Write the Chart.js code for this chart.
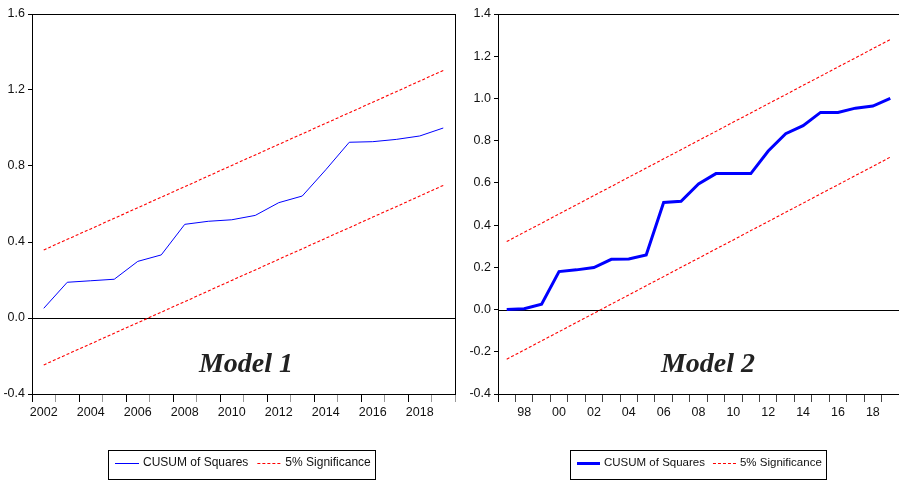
<!DOCTYPE html>
<html>
<head>
<meta charset="utf-8">
<script src="https://cdn.jsdelivr.net/npm/chart.js@4/dist/chart.umd.min.js"></script>
<style>
  html, body { margin: 0; padding: 0; background: #fff; width: 899px; height: 483px; overflow: hidden; }
  canvas { position: absolute; top: 0; }
  #model1 { left: 0; }
  #model2 { left: 458px; }
</style>
</head>
<body>
<canvas id="model1" width="460" height="483"></canvas>
<canvas id="model2" width="441" height="483"></canvas>
<script>
// ---- Model 1: CUSUM of squares, 2002-2019 ----
const years1 = [2002, 2003, 2004, 2005, 2006, 2007, 2008, 2009, 2010, 2011,
                2012, 2013, 2014, 2015, 2016, 2017, 2018, 2019];
const cusum1 = [0.051, 0.188, 0.196, 0.204, 0.298, 0.332, 0.493, 0.509, 0.517, 0.540,
                0.607, 0.642, 0.780, 0.925, 0.928, 0.940, 0.958, 1.000];
const upper1 = [0.358, 0.414, 0.469, 0.525, 0.580, 0.636, 0.691, 0.747, 0.803, 0.858,
                0.914, 0.969, 1.025, 1.080, 1.136, 1.191, 1.247, 1.303];
const lower1 = [-0.247, -0.191, -0.136, -0.080, -0.025, 0.031, 0.086, 0.142, 0.198, 0.253,
                0.309, 0.364, 0.420, 0.475, 0.531, 0.586, 0.642, 0.698];
const yRange1 = { min: -0.4, max: 1.6, step: 0.4 };

// ---- Model 2: CUSUM of squares, 1997-2019 ----
const years2 = [1997, 1998, 1999, 2000, 2001, 2002, 2003, 2004, 2005, 2006, 2007, 2008,
                2009, 2010, 2011, 2012, 2013, 2014, 2015, 2016, 2017, 2018, 2019];
const cusum2 = [0.000, 0.004, 0.025, 0.180, 0.188, 0.199, 0.238, 0.240, 0.259, 0.507, 0.513, 0.595,
                0.644, 0.644, 0.644, 0.751, 0.833, 0.871, 0.934, 0.934, 0.954, 0.964, 1.000];
const upper2 = [0.322, 0.366, 0.409, 0.453, 0.496, 0.540, 0.583, 0.627, 0.670, 0.714, 0.757, 0.801,
                0.844, 0.888, 0.931, 0.975, 1.018, 1.062, 1.105, 1.149, 1.192, 1.236, 1.279];
const lower2 = [-0.235, -0.192, -0.148, -0.105, -0.061, -0.018, 0.026, 0.069, 0.113, 0.156, 0.200, 0.243,
                0.287, 0.330, 0.374, 0.417, 0.461, 0.504, 0.548, 0.591, 0.635, 0.678, 0.722];
const yRange2 = { min: -0.4, max: 1.4, step: 0.2 };

const seriesLabel = 'CUSUM of Squares';
const bandLabel = '5% Significance';
const BLUE = '#0000FF';
const RED = '#FF0000';
const SANS = '"Liberation Sans", Arial, sans-serif';

// Frame, zero line, panel title and boxed legend
const panelDecor = {
  id: 'panelDecor',
  beforeDatasetsDraw(chart) {
    const { ctx, chartArea: a, scales: { y } } = chart;
    ctx.save();
    ctx.strokeStyle = '#000';
    ctx.lineWidth = 1;
    const y0 = Math.round(y.getPixelForValue(0)) + 0.5;
    ctx.beginPath();
    ctx.moveTo(a.left, y0);
    ctx.lineTo(a.right, y0);
    ctx.stroke();
    ctx.strokeRect(Math.round(a.left) + 0.5, Math.round(a.top) + 0.5,
                   Math.round(a.right - a.left), Math.round(a.bottom - a.top));
    ctx.restore();
  },
  afterDraw(chart, args, o) {
    const ctx = chart.ctx;
    ctx.save();
    // panel title
    ctx.font = 'italic bold 28px "Liberation Serif", "Times New Roman", serif';
    ctx.fillStyle = '#222';
    ctx.textAlign = 'center';
    ctx.textBaseline = 'alphabetic';
    ctx.fillText(o.title, o.titleX, o.titleY);

    // legend: one entry per distinct dataset label
    const seen = new Set();
    const items = chart.data.datasets.filter(d => !seen.has(d.label) && seen.add(d.label));
    ctx.font = o.legendFont + 'px ' + SANS;
    ctx.textAlign = 'left';
    ctx.textBaseline = 'middle';
    let x = o.legendX;
    const ly = o.legendY;
    items.forEach((d, i) => {
      ctx.strokeStyle = d.borderColor;
      ctx.lineWidth = d.legendWidth || 1;
      ctx.setLineDash(d.borderDash || []);
      ctx.beginPath();
      ctx.moveTo(x, ly + 0.5);
      ctx.lineTo(x + o.swatch, ly + 0.5);
      ctx.stroke();
      ctx.setLineDash([]);
      x += o.swatch + 4;
      ctx.fillStyle = '#111';
      ctx.fillText(d.label, x, ly);
      x += ctx.measureText(d.label).width;
      if (i < items.length - 1) x += o.gap;
    });
    ctx.strokeStyle = '#000';
    ctx.lineWidth = 1;
    const bx = Math.round(o.legendX - 7) + 0.5;
    ctx.strokeRect(bx, o.boxTop + 0.5, Math.round(x + 5 - bx), o.boxH);
    ctx.restore();
  }
};

function makePanel(id, years, cusum, upper, lower, yr, opt) {
  return new Chart(document.getElementById(id), {
    type: 'line',
    data: {
      labels: years,
      datasets: [
        { label: seriesLabel, data: cusum, borderColor: BLUE, borderWidth: opt.cusumWidth,
          legendWidth: opt.cusumWidth, pointRadius: 0, tension: 0, fill: false },
        { label: bandLabel, data: upper, borderColor: RED, borderWidth: 1.1,
          borderDash: [3, 2], pointRadius: 0, tension: 0, fill: false },
        { label: bandLabel, data: lower, borderColor: RED, borderWidth: 1.1,
          borderDash: [3, 2], pointRadius: 0, tension: 0, fill: false }
      ]
    },
    options: {
      responsive: false,
      animation: false,
      devicePixelRatio: 1,
      layout: { padding: { top: 14, right: opt.padRight, bottom: 59, left: 0 } },
      plugins: {
        legend: { display: false },
        tooltip: { enabled: false },
        panelDecor: opt.decor
      },
      scales: {
        x: {
          type: 'category',
          offset: true,
          border: { display: false },
          grid: {
            offset: true,
            drawOnChartArea: false,
            tickLength: 8,
            tickColor: ctx => opt.tickColor(ctx.index)
          },
          ticks: {
            autoSkip: false,
            maxRotation: 0,
            padding: 3,
            color: '#111',
            font: { family: SANS, size: 12.5 },
            callback: (v, i) => (years[i] % 2 === 0 ? opt.yearText(years[i]) : '')
          },
          afterFit: s => { s.height = 30; }
        },
        y: {
          min: yr.min,
          max: yr.max,
          border: { display: false },
          grid: { drawOnChartArea: false, tickLength: 4, tickColor: '#000' },
          ticks: {
            stepSize: yr.step,
            padding: 3,
            color: '#111',
            font: { family: SANS, size: 12.5 },
            callback: v => (Math.abs(v) < 1e-9 ? 0 : v).toFixed(1)
          },
          afterFit: s => { s.width = opt.yWidth; }
        }
      }
    },
    plugins: [panelDecor]
  });
}

makePanel('model1', years1, cusum1, upper1, lower1, yRange1, {
  cusumWidth: 1,
  padRight: 5,
  yWidth: 32,
  tickColor: i => (i % 2 === 0 ? '#000' : '#999'),
  yearText: y => String(y),
  decor: { title: 'Model 1', titleX: 246, titleY: 372,
           legendX: 115, legendY: 463, swatch: 24, gap: 9, legendFont: 12,
           boxTop: 450, boxH: 29 }
});

makePanel('model2', years2, cusum2, upper2, lower2, yRange2, {
  cusumWidth: 3,
  padRight: 0,
  yWidth: 40,
  tickColor: i => (i === 0 ? '#000' : '#444'),
  yearText: y => String(y).slice(2),
  decor: { title: 'Model 2', titleX: 250, titleY: 372,
           legendX: 119, legendY: 463, swatch: 23, gap: 8, legendFont: 11.5,
           boxTop: 450, boxH: 29 }
});
</script>
</body>
</html>
